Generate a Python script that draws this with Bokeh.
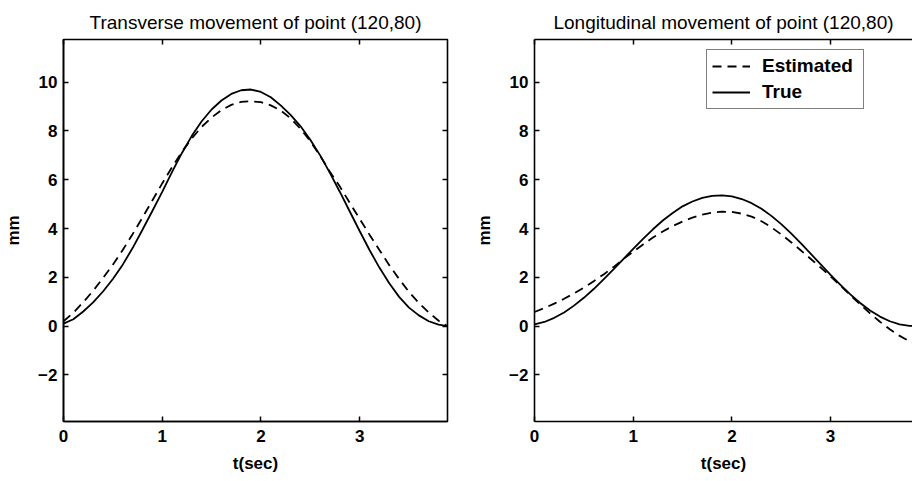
from bokeh.plotting import figure
from bokeh.layouts import row
from bokeh.models import Range1d, FixedTicker, LinearAxis, Legend, LegendItem
from bokeh.embed import file_html
from bokeh.resources import INLINE

# time samples (s)
t = [0.0, 0.1, 0.2, 0.3, 0.4, 0.5, 0.6, 0.7, 0.8, 0.9,
     1.0, 1.1, 1.2, 1.3, 1.4, 1.5, 1.6, 1.7, 1.8, 1.9,
     2.0, 2.1, 2.2, 2.3, 2.4, 2.5, 2.6, 2.7, 2.8, 2.9,
     3.0, 3.1, 3.2, 3.3, 3.4, 3.5, 3.6, 3.7, 3.8, 3.89]

# Transverse movement (mm)
trans_true = [0.10, 0.28, 0.60, 0.97, 1.42, 1.93, 2.52, 3.20, 3.95, 4.72,
              5.50, 6.32, 7.10, 7.80, 8.40, 8.88, 9.25, 9.52, 9.67, 9.70,
              9.60, 9.38, 9.05, 8.66, 8.20, 7.64, 7.00, 6.27, 5.50, 4.70,
              3.90, 3.12, 2.40, 1.76, 1.20, 0.76, 0.44, 0.20, 0.06, 0.00]
trans_est = [0.20, 0.55, 0.98, 1.45, 1.97, 2.52, 3.12, 3.77, 4.45, 5.15,
             5.85, 6.52, 7.15, 7.70, 8.17, 8.55, 8.86, 9.07, 9.19, 9.22,
             9.18, 9.05, 8.84, 8.52, 8.10, 7.58, 6.98, 6.32, 5.72, 5.05,
             4.40, 3.75, 3.12, 2.50, 1.93, 1.40, 0.95, 0.56, 0.22, 0.00]

# Longitudinal movement (mm)
long_true = [0.07, 0.17, 0.34, 0.56, 0.84, 1.16, 1.52, 1.92, 2.33, 2.75,
             3.17, 3.58, 3.97, 4.33, 4.64, 4.91, 5.11, 5.26, 5.34, 5.36,
             5.32, 5.21, 5.04, 4.81, 4.52, 4.18, 3.80, 3.39, 2.96, 2.53,
             2.10, 1.69, 1.30, 0.95, 0.64, 0.39, 0.20, 0.07, 0.01, 0.00]
long_est = [0.58, 0.74, 0.92, 1.12, 1.34, 1.58, 1.84, 2.12, 2.42, 2.75,
            3.05, 3.35, 3.63, 3.88, 4.10, 4.29, 4.45, 4.57, 4.65, 4.69,
            4.68, 4.61, 4.49, 4.30, 4.05, 3.76, 3.44, 3.10, 2.75, 2.40,
            2.04, 1.66, 1.27, 0.89, 0.52, 0.18, -0.13, -0.40, -0.62, -0.76]

x_ticks = [0, 1, 2, 3]
y_ticks = [-2, 0, 2, 4, 6, 8, 10]
y_tick_labels = ["\u22122", "0", "2", "4", "6", "8", "10"]

FONT = "Liberation Sans"


def style_axis(ax, ticks, labels=True, line=True):
    ax.ticker = FixedTicker(ticks=ticks)
    ax.major_tick_in = 5
    ax.major_tick_out = 0
    ax.major_tick_line_width = 1.5
    ax.major_tick_line_color = "black"
    ax.minor_tick_line_color = None
    ax.axis_line_color = "black" if line else None
    ax.axis_line_width = 1.6
    if labels:
        ax.major_label_text_font = FONT
        ax.major_label_text_font_style = "bold"
        ax.major_label_text_font_size = "17px"
        ax.major_label_text_color = "black"
    else:
        ax.major_label_text_color = None
        ax.major_label_text_font_size = "0px"
        ax.major_label_standoff = 0


def make_fig(title, width, min_left, min_right, x_end, outline):
    p = figure(width=width, height=481, output_backend="svg", toolbar_location=None,
               x_range=Range1d(0, x_end), y_range=Range1d(-3.91, 11.75),
               min_border_left=min_left, min_border_right=min_right,
               min_border_top=39, min_border_bottom=60, title=title)
    p.grid.visible = False
    p.background_fill_color = "white"
    p.border_fill_color = "white"
    if outline:
        p.outline_line_color = "black"
        p.outline_line_width = 1.6
    else:
        p.outline_line_color = None
    p.title.text_font = FONT
    p.title.text_font_size = "19px"
    p.title.text_font_style = "normal"
    p.title.align = "center"
    p.title.text_color = "black"
    p.title.standoff = 13

    style_axis(p.xaxis[0], x_ticks)
    style_axis(p.yaxis[0], y_ticks)
    p.yaxis[0].major_label_overrides = {v: s for v, s in zip(y_ticks, y_tick_labels)}
    p.xaxis[0].axis_label = "t(sec)"
    p.yaxis[0].axis_label = "mm"
    for ax in (p.xaxis[0], p.yaxis[0]):
        ax.axis_label_text_font = FONT
        ax.axis_label_text_font_style = "bold"
        ax.axis_label_text_font_size = "17px"
        ax.axis_label_text_color = "black"
    p.xaxis[0].major_label_standoff = 8
    p.xaxis[0].axis_label_standoff = 9
    p.yaxis[0].major_label_standoff = 6
    p.yaxis[0].axis_label_standoff = 12

    top = LinearAxis()
    style_axis(top, x_ticks, labels=False, line=not outline)
    p.add_layout(top, "above")
    if outline:
        right = LinearAxis()
        style_axis(right, y_ticks, labels=False, line=False)
        p.add_layout(right, "right")
    return p


p1 = make_fig("Transverse movement of point (120,80)", 460, 63, 13, 3.89, True)
p1.line(t, trans_est, line_color="black", line_width=1.8, line_dash="9 6")
p1.line(t, trans_true, line_color="black", line_width=1.8)

p2 = make_fig("Longitudinal movement of point (120,80)", 452, 74, 0, 3.83, False)
r_est = p2.line(t, long_est, line_color="black", line_width=1.8, line_dash="9 6")
r_true = p2.line(t, long_true, line_color="black", line_width=1.8)

legend = Legend(items=[LegendItem(label="Estimated", renderers=[r_est]),
                       LegendItem(label="True", renderers=[r_true])],
                location=(172, 312))
legend.label_text_font = FONT
legend.label_text_font_style = "bold"
legend.label_text_font_size = "19px"
legend.label_text_color = "black"
legend.label_height = 20
legend.label_width = 96
legend.glyph_height = 20
legend.glyph_width = 38
legend.label_standoff = 12
legend.spacing = 4
legend.padding = 5
legend.margin = 0
legend.border_line_color = "black"
legend.border_line_width = 1.6
legend.background_fill_color = "white"
legend.background_fill_alpha = 1.0
p2.add_layout(legend, "center")

layout = row(p1, p2)

with open("out.html", "w") as f:
    f.write(file_html(layout, INLINE))
